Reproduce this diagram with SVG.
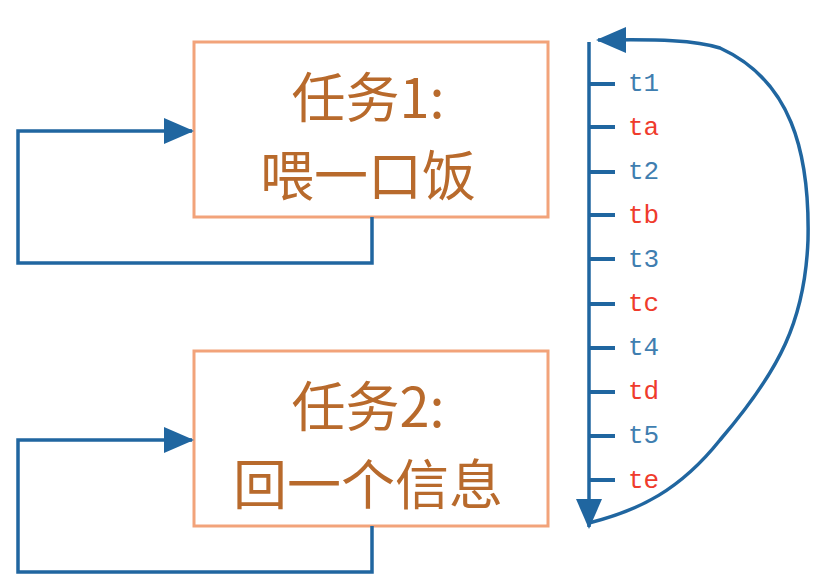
<svg xmlns="http://www.w3.org/2000/svg" width="825" height="583" viewBox="0 0 825 583">
<style>
.box{fill:#fff;stroke:#f2a37a;stroke-width:3}
.bt{font-family:"Noto Sans CJK SC","Liberation Serif",serif;font-size:54px;fill:#b86a2c;text-anchor:middle}
.ln{fill:none;stroke:#2066a0;stroke-width:3.5}
.tk{stroke:#2066a0;stroke-width:4}
.lb{font-family:"Liberation Mono",monospace;font-size:26px}
.b{fill:#3f7eb0}.r{fill:#ef3b2c}
</style>
<defs>
<marker id="ah2" markerWidth="30" markerHeight="30" refX="28" refY="15" orient="auto" markerUnits="userSpaceOnUse" viewBox="0 0 30 30"><path d="M0,2 L30,15 L0,28 z" fill="#2066a0"/></marker>
</defs>
<rect width="825" height="583" fill="#fff"/>
<g id="task1"><rect class="box" x="194" y="42" width="354" height="175"/>
<text class="bt" x="368" y="118">任务1:</text><text class="bt" x="368" y="196">喂一口饭</text></g>
<g id="task2"><rect class="box" x="194" y="351" width="354" height="175"/>
<text class="bt" x="368" y="427">任务2:</text><text class="bt" x="368" y="505">回一个信息</text></g>
<g id="connectors">
<path class="ln" d="M372,217 V263 H18 V131 H192" marker-end="url(#ah2)"/>
<path class="ln" d="M372,526 V572 H18 V440 H192" marker-end="url(#ah2)"/>
<path class="ln" d="M589,42 V527" marker-end="url(#ah2)"/>
<path class="ln" d="M589,523 C640,510 680,490 720,440 C780,370 805,320 808,240 C810,150 790,80 720,48 C690,38 640,40 598,40" marker-end="url(#ah2)"/>
</g>
<g id="axis">
<path class="tk" d="M589,84h26M589,127h26M589,172h26M589,215h26M589,259h26M589,304h26M589,348h26M589,392h26M589,436h26M589,480h26"/>
<text class="lb b" x="628" y="91">t1</text>
<text class="lb r" x="628" y="135">ta</text>
<text class="lb b" x="628" y="179">t2</text>
<text class="lb r" x="628" y="223">tb</text>
<text class="lb b" x="628" y="267">t3</text>
<text class="lb r" x="628" y="311">tc</text>
<text class="lb b" x="628" y="355">t4</text>
<text class="lb r" x="628" y="399">td</text>
<text class="lb b" x="628" y="443">t5</text>
<text class="lb r" x="628" y="488">te</text>
</g>
</svg>
